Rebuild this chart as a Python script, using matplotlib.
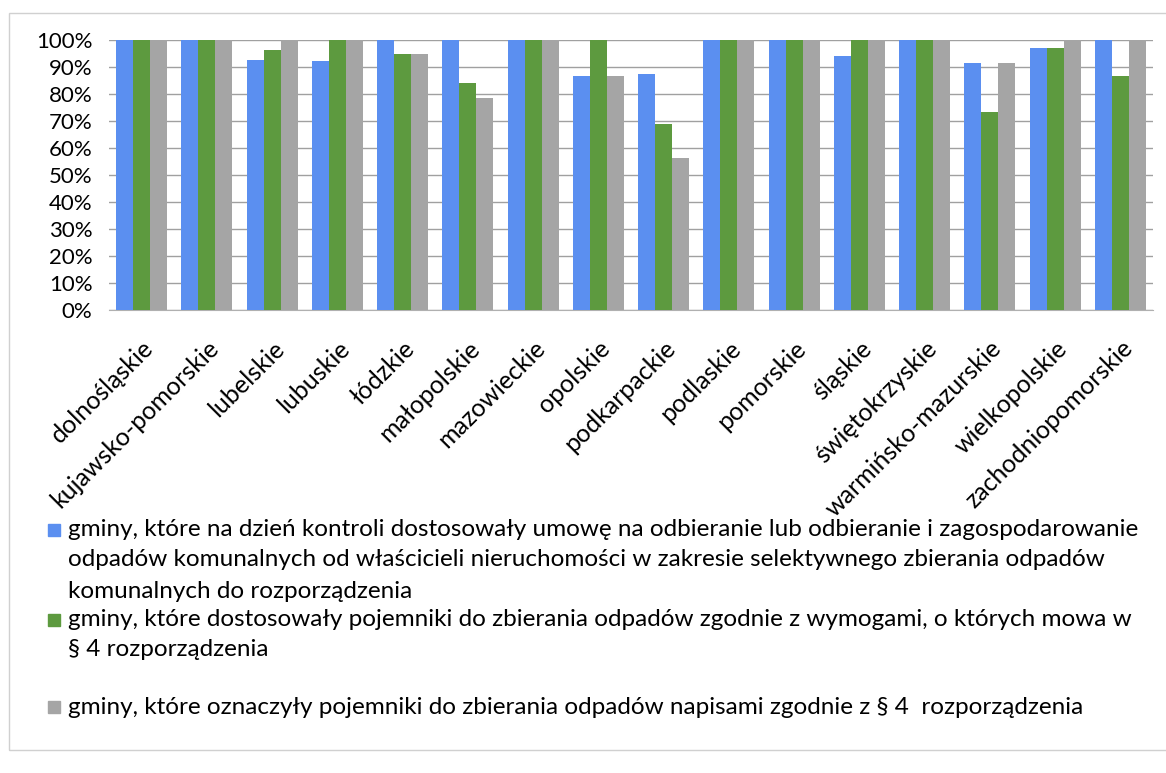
import numpy as np
import matplotlib.pyplot as plt
from matplotlib.patches import Rectangle
from matplotlib.ticker import PercentFormatter

plt.rcParams['font.family'] = ['Lato', 'DejaVu Sans']

# Województwa
wojewodztwa = ['dolnośląskie', 'kujawsko-pomorskie', 'lubelskie', 'lubuskie',
               'łódzkie', 'małopolskie', 'mazowieckie', 'opolskie',
               'podkarpackie', 'podlaskie', 'pomorskie', 'śląskie',
               'świętokrzyskie', 'warmińsko-mazurskie', 'wielkopolskie',
               'zachodniopomorskie']

# Odsetek gmin (%)
umowa = [100, 100, 92.5, 92.2, 100, 100, 100, 86.6, 87.5, 100, 100, 94, 100, 91.3, 97, 100]
pojemniki = [100, 100, 96.4, 100, 95, 84, 100, 100, 68.8, 100, 100, 100, 100, 73.5, 97, 86.5]
napisy = [100, 100, 100, 100, 95, 78.6, 100, 86.8, 56.2, 100, 100, 100, 100, 91.5, 100, 100]

# opisy serii (po liniach, jak w legendzie oryginału)
legenda = [
    ['gminy, które na dzień kontroli dostosowały umowę na odbieranie lub odbieranie i zagospodarowanie',
     'odpadów komunalnych od właścicieli nieruchomości w zakresie selektywnego zbierania odpadów',
     'komunalnych do rozporządzenia'],
    ['gminy, które dostosowały pojemniki do zbierania odpadów zgodnie z wymogami, o których mowa w',
     '§ 4 rozporządzenia'],
    ['gminy, które oznaczyły pojemniki do zbierania odpadów napisami zgodnie z § 4  rozporządzenia'],
]
kolory = ['#5b8ff0', '#5d9a3f', '#a5a5a5']

W, H = 1166, 773
fig = plt.figure(figsize=(W / 100, H / 100), dpi=100)
ax = fig.add_axes([109 / W, 1 - 310 / H, 1044 / W, 270 / H])

x = np.arange(len(wojewodztwa))
w = 0.26
for i, (vals, c) in enumerate(zip([umowa, pojemniki, napisy], kolory)):
    ax.bar(x + (i - 1) * w, vals, width=w, color=c, zorder=3)

ax.set_xlim(-0.5, len(wojewodztwa) - 0.5)
ax.set_ylim(0, 100)
ax.set_yticks(range(0, 101, 10))
ax.yaxis.set_major_formatter(PercentFormatter(decimals=0))
ax.grid(axis='y', color='#a0a0a0', linewidth=1, zorder=0)
for s in ['top', 'right', 'left']:
    ax.spines[s].set_visible(False)
ax.spines['bottom'].set_color('#b0b0b0')
ax.tick_params(axis='both', length=0)
ax.tick_params(axis='y', pad=12, labelsize=16)

ax.set_xticks(x)
ax.set_xticklabels(wojewodztwa, rotation=45, ha='right', rotation_mode='anchor',
                   fontsize=18)
ax.tick_params(axis='x', pad=19)

# legenda
linie_y = [[530, 560, 592], [620, 650], [707]]
for linie, ys, c in zip(legenda, linie_y, kolory):
    fig.patches.append(Rectangle((48 / W, 1 - (ys[0] + 6) / H), 12 / W, 12 / H,
                                 transform=fig.transFigure, color=c))
    for tekst, yy in zip(linie, ys):
        fig.text(68 / W, 1 - yy / H, tekst, fontsize=17.5, va='center')

# ramka
fig.patches.append(Rectangle((9 / W, 1 - 750 / H), 1180 / W, 737 / H,
                             transform=fig.transFigure, fill=False,
                             edgecolor='#d0d0d0', linewidth=1))

plt.savefig('out.png')
